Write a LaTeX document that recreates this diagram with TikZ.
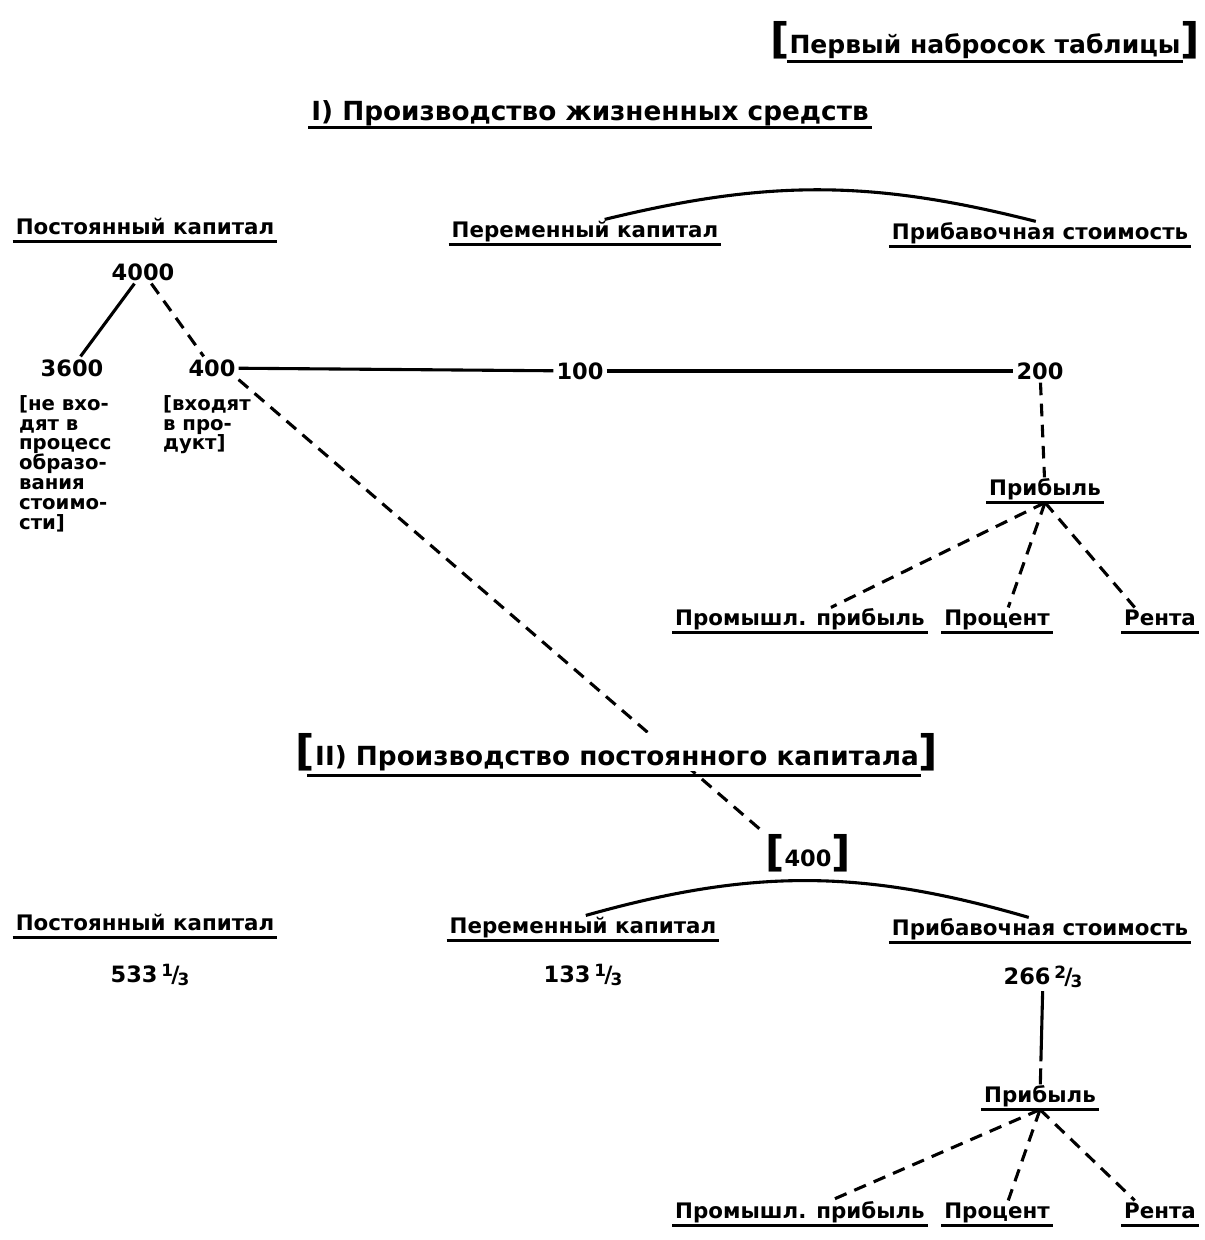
\documentclass[tikz,border=0pt]{standalone}
\usepackage{fontspec}
\setmainfont{DejaVu Sans}
\usetikzlibrary{calc}

\newcommand{\frc}[2]{\raisebox{.5ex}{\fontsize{12}{12}\selectfont #1}\kern-.08em/\kern-.08em\raisebox{-.25ex}{\fontsize{12}{12}\selectfont #2}}
\newcommand{\bigbr}[1]{{\fontsize{30}{30}\selectfont #1}}

\begin{document}
\begin{tikzpicture}[
            x=0.025cm, y=-0.025cm,
            every node/.style={font=\fontsize{15.2}{17}\selectfont\bfseries, inner sep=2pt}, % bold text everywhere
            uline/.style={line width=2pt},
            head/.style={text height=1.05em, text depth=.3em, append after command={(\tikzlastnode.south west) edge[uline] (\tikzlastnode.south east)}}, % underlined heading
            ttl/.style={font=\fontsize{18.7}{20}\selectfont\bfseries},
            num/.style={font=\fontsize{16}{17}\selectfont\bfseries},
            note/.style={font=\fontsize{14}{14.2}\selectfont\bfseries, align=left, anchor=north west},
            link/.style={line width=2.2pt},
            dlink/.style={line width=2.2pt, dash pattern=on 9pt off 6pt}
            ]
        \useasboundingbox (0,0) rectangle (1204,1240);

        % heading of the sheet
        \node[font=\fontsize{17.8}{19}\selectfont\bfseries] (t0) at (985,40) {\bigbr{[}Первый набросок таблицы\bigbr{]}};
        \draw[uline] ([xshift=14pt]t0.south west) -- ([xshift=-14pt]t0.south east);

        % I) means of subsistence
        \node[ttl, head] (t1) at (590,115) {I) Производство жизненных средств};
        \node[head] (pc1) at (145,229) {Постоянный капитал};
        \node[head] (vc1) at (585,232) {Переменный капитал};
        \node[head] (sv1) at (1040,234) {Прибавочная стоимость};
        \draw[link] ([xshift=14pt]vc1.north) to[bend left=14] ([xshift=-3pt]sv1.north);

        \node[num] (n4000) at (143,272) {4000};
        \node[num] (n3600) at (72,368) {3600};
        \node[num] (n400) at (212,368) {400};
        \node[num] (n100) at (580,371) {100};
        \node[num] (n200) at (1040,371) {200};
        \node[note] (m3600) at (16,392) {[не вхо-\\дят в\\процесс\\образо-\\вания\\стоимо-\\сти]};
        \node[note] (m400) at (160,392) {[входят\\в про-\\дукт]};

        \draw[link] (n4000) -- (n3600);
        \draw[dlink] (n4000) -- (n400);
        \draw[link] (n400) -- (n100);
        \draw[link] (n100) -- (n200);

        \node[head] (pr1) at (1045,490) {Прибыль};
        \node[head] (ind1) at (800,620) {Промышл. прибыль};
        \node[head] (int1) at (997,620) {Процент};
        \node[head] (rent1) at (1160,620) {Рента};
        \draw[dlink] (n200) -- (pr1);
        \draw[dlink] (pr1.south) -- ([xshift=22pt]ind1.north);
        \draw[dlink] (pr1.south) -- ([xshift=8pt]int1.north);
        \draw[dlink] (pr1.south) -- ([xshift=-18pt]rent1.north);

        % II) constant capital
        \node[num] (b400) at (808,853) {\bigbr{[}400\bigbr{]}};
        \draw[dlink] (n400.south east) -- (b400.north west);
        \node[ttl, fill=white, inner sep=0pt] (t2) at (617,752) {\bigbr{[}II) Производство постоянного капитала\bigbr{]}};
        \draw[uline] ([xshift=8pt, yshift=-3pt]t2.south west) -- ([xshift=-12pt, yshift=-3pt]t2.south east);

        \node[head] (pc2) at (145,925) {Постоянный капитал};
        \node[head] (vc2) at (583,928) {Переменный капитал};
        \node[head] (sv2) at (1040,930) {Прибавочная стоимость};
        \draw[link] ([xshift=2pt]vc2.north) to[bend left=16] ([xshift=-8pt]sv2.north);

        \node[num] (n533) at (150,975) {533\,\frc{1}{3}};
        \node[num] (n133) at (583,975) {133\,\frc{1}{3}};
        \node[num] (n266) at (1043,977) {266\,\frc{2}{3}};

        \node[head] (pr2) at (1040,1097) {Прибыль};
        \node[head] (ind2) at (800,1213) {Промышл. прибыль};
        \node[head] (int2) at (997,1213) {Процент};
        \node[head] (rent2) at (1160,1213) {Рента};
        \draw[link, dash pattern=on 50pt off 5pt] (n266) -- (pr2);
        \draw[dlink] (pr2.south) -- ([xshift=22pt]ind2.north);
        \draw[dlink] (pr2.south) -- ([xshift=8pt]int2.north);
        \draw[dlink] (pr2.south) -- ([xshift=-18pt]rent2.north);

    \end{tikzpicture}
\end{document}
